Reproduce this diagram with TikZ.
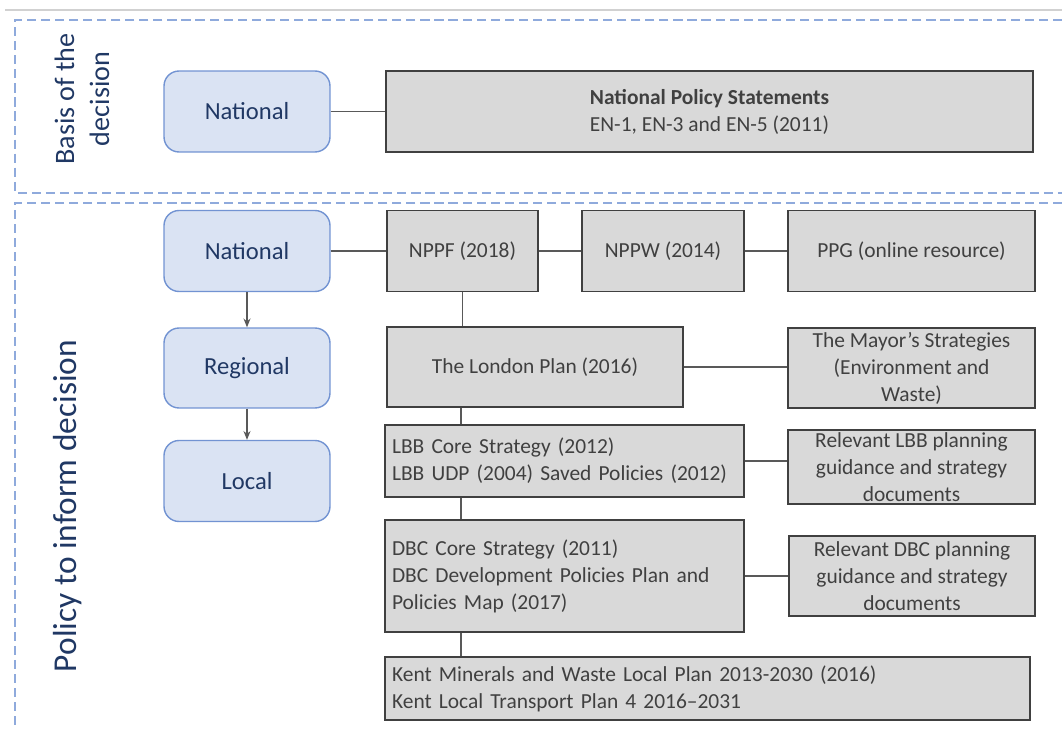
\documentclass[tikz,border=0pt]{standalone}
\usepackage{fontspec}
\setmainfont{Carlito}
\usetikzlibrary{arrows.meta}
\definecolor{levelfill}{RGB}{218,227,243}
\definecolor{leveldraw}{RGB}{114,147,210}
\definecolor{leveltext}{RGB}{32,56,100}
\definecolor{docfill}{RGB}{217,217,217}
\definecolor{docdraw}{RGB}{64,64,64}
\definecolor{doctext}{RGB}{64,64,64}
\definecolor{framecolor}{RGB}{143,170,220}
\definecolor{linkcolor}{RGB}{89,89,89}

\begin{document}
\begin{tikzpicture}[x=0.02cm, y=-0.02cm,
    level/.style={draw=leveldraw, fill=levelfill, line width=0.8pt, rounded corners=0.3cm,
        minimum width=3.32cm, minimum height=1.62cm, text=leveltext, font=\fontsize{14}{17}\selectfont},
    doc/.style={draw=docdraw, fill=docfill, line width=0.8pt, text=doctext, align=center,
        inner sep=0pt, font=\fontsize{12.2}{15.4}\selectfont},
    docleft/.style={doc, align=left, inner xsep=0.14cm},
    frame/.style={draw=framecolor, line width=1.1pt, dash pattern=on 5.2pt off 2.8pt},
    link/.style={draw=linkcolor, line width=0.6pt},
    sidelabel/.style={rotate=90, text=leveltext, align=center}]
\useasboundingbox (0,0) rectangle (1062,729);
\draw[draw=black!18, line width=1pt] (5,10) -- (1062,10);
\draw[frame] (1062,20) -- (15,20) -- (15,193) -- (1062,193);
\draw[frame] (1062,203) -- (15,203) -- (15,729);
\node[sidelabel, font=\fontsize{16}{20}\selectfont] (basislabel) at (82,99) {Basis of the\\decision};
\node[sidelabel, font=\fontsize{19}{23}\selectfont] (policylabel) at (68,506) {Policy to inform decision};
% levels
\node[level] (natbasis) at (247,111.5) {National};
\node[level] (natpolicy) at (247,251) {National};
\node[level, minimum height=1.6cm] (regional) at (247,368) {Regional};
\node[level] (local) at (247,481) {Local};
% documents
\node[doc, minimum width=12.94cm, minimum height=1.62cm] (nps) at (709.5,111.5) {\textbf{National Policy Statements}\\EN-1, EN-3 and EN-5 (2011)};
\node[doc, minimum width=3.02cm, minimum height=1.62cm] (nppf) at (462.5,251) {NPPF (2018)};
\node[doc, minimum width=3.24cm, minimum height=1.62cm] (nppw) at (663,251) {NPPW (2014)};
\node[doc, minimum width=4.94cm, minimum height=1.62cm] (ppg) at (911.5,251) {PPG (online resource)};
\node[doc, minimum width=5.92cm, minimum height=1.6cm] (london) at (535,367) {The London Plan (2016)};
\node[doc, minimum width=4.94cm, minimum height=1.6cm] (mayor) at (911.5,368) {The Mayor’s Strategies\\(Environment and\\Waste)};
\node[docleft, text width=6.9cm, minimum height=1.44cm] (lbb) at (564.5,461) {LBB Core Strategy (2012)\\LBB UDP (2004) Saved Policies (2012)};
\node[doc, minimum width=4.94cm, minimum height=1.48cm] (lbbguide) at (911.5,467) {Relevant LBB planning\\guidance and strategy\\documents};
\node[docleft, text width=6.9cm, minimum height=2.24cm] (dbc) at (564.5,576) {DBC Core Strategy (2011)\\DBC Development Policies Plan and\\Policies Map (2017)};
\node[doc, minimum width=4.92cm, minimum height=1.6cm] (dbcguide) at (912,576) {Relevant DBC planning\\guidance and strategy\\documents};
\node[docleft, text width=12.62cm, minimum height=1.26cm] (kent) at (707.5,688.5) {Kent Minerals and Waste Local Plan 2013-2030 (2016)\\Kent Local Transport Plan 4 2016--2031};
% links
\coordinate (spine) at (461,0);
\draw[link] (natbasis.east) -- (nps.west);
\draw[link] (natpolicy.east) -- (nppf.west);
\draw[link] (nppf.east) -- (nppw.west);
\draw[link] (nppw.east) -- (ppg.west);
\draw[link] (london.east) -- (london.east -| mayor.west);
\draw[link] (lbb.east) -- (lbb.east -| lbbguide.west);
\draw[link] (dbc.east) -- (dbcguide.west);
\draw[link] (nppf.south) -- (nppf.south |- london.north);
\draw[link] (london.south -| spine) -- (lbb.north -| spine);
\draw[link] (lbb.south -| spine) -- (dbc.north -| spine);
\draw[link] (dbc.south -| spine) -- (kent.north -| spine);
\draw[link, -{Stealth[length=5pt, width=4pt]}] (natpolicy.south) -- (regional.north);
\draw[link, -{Stealth[length=5pt, width=4pt]}] (regional.south) -- (local.north);
\end{tikzpicture}
\end{document}
